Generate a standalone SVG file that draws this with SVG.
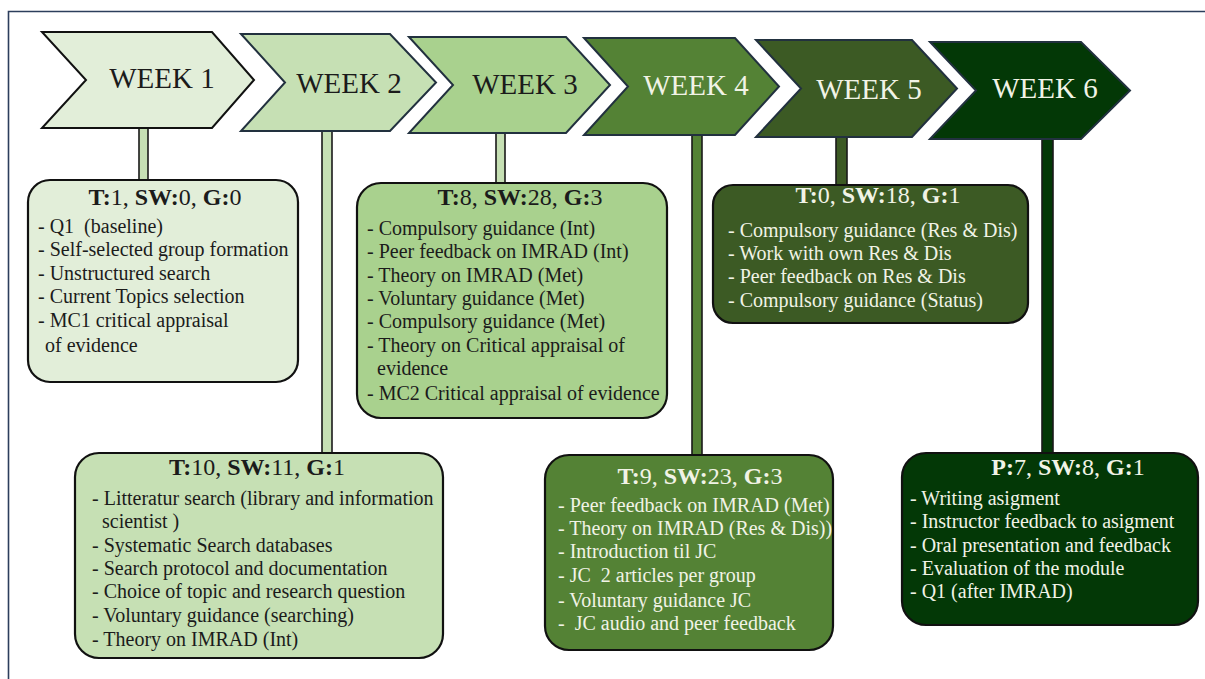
<svg xmlns="http://www.w3.org/2000/svg" width="1205" height="679" viewBox="0 0 1205 679">
<style>
.chev{stroke:#22313f;stroke-width:2;stroke-linejoin:miter}
.wk{font-family:"Liberation Serif","Times New Roman",serif;font-size:29px;text-anchor:middle}
.box{stroke:#111;stroke-width:2.2}
.hd{font-family:"Liberation Serif","Times New Roman",serif;font-size:24px;text-anchor:middle}
.hd tspan.b{font-weight:bold}
.ln{font-family:"Liberation Serif","Times New Roman",serif;font-size:20px;white-space:pre}
.dk{fill:#1b1b1b}
.lt{fill:#f1f3e6}
.stem{stroke:#1a1a1a;stroke-width:1.6}
.c1{fill:#e2eed9}.c2{fill:#c6e0b4}.c3{fill:#a9d18e}.c4{fill:#548235}.c5{fill:#3c5a24}.c6{fill:#033806}
</style>
<rect width="1205" height="679" fill="#ffffff"/>
<g id="frame" fill="none" stroke="#2c3e5c" stroke-width="1.6">
<path d="M8.5 679 V11.5 H1205"/>
</g>
<g id="connectors">
<rect class="stem c2" x="139" y="128" width="9" height="52"/>
<rect class="stem c2" x="322" y="131" width="10" height="322"/>
<rect class="stem c2" x="496" y="133" width="9" height="50"/>
<rect class="stem c4" x="692" y="135" width="10" height="320"/>
<rect class="stem c5" x="836" y="137" width="11" height="48"/>
<rect class="stem c6" x="1042" y="139" width="11" height="314"/>
</g>
<g id="week1">
<polygon class="chev c1" style="stroke:#111" points="42,32 212,32 254,80 212,128 42,128 86,80"/>
<text class="wk dk" x="162" y="88">WEEK 1</text>
</g>
<g id="week2">
<polygon class="chev c2" points="241,34 390,34 436,82.5 390,131 241,131 285,82.5"/>
<text class="wk dk" x="349" y="93">WEEK 2</text>
</g>
<g id="week3">
<polygon class="chev c3" points="409,37 566,37 610,85 566,133 409,133 453,85"/>
<text class="wk dk" x="525" y="94">WEEK 3</text>
</g>
<g id="week4">
<polygon class="chev c4" points="584,38 735,38 779,86.5 735,135 584,135 628,86.5"/>
<text class="wk lt" x="696" y="95">WEEK 4</text>
</g>
<g id="week5">
<polygon class="chev c5" points="756,40 912,40 957,88.5 912,137 756,137 801,88.5"/>
<text class="wk lt" x="869" y="99">WEEK 5</text>
</g>
<g id="week6">
<polygon class="chev c6" points="930,42 1081,42 1130,90.5 1081,139 930,139 976,90.5"/>
<text class="wk lt" x="1045" y="98">WEEK 6</text>
</g>
<g id="box1">
<rect class="box c1" x="28" y="180" width="270" height="202" rx="22"/>
<text class="hd dk" x="165" y="205"><tspan class="b">T:</tspan>1, <tspan class="b">SW:</tspan>0, <tspan class="b">G:</tspan>0</text>
<text class="ln dk" x="38" y="233">- Q1  (baseline)</text>
<text class="ln dk" x="38" y="256">- Self-selected group formation</text>
<text class="ln dk" x="38" y="280">- Unstructured search</text>
<text class="ln dk" x="38" y="303">- Current Topics selection</text>
<text class="ln dk" x="38" y="327">- MC1 critical appraisal</text>
<text class="ln dk" x="45" y="352">of evidence</text>
</g>
<g id="box2">
<rect class="box c2" x="75" y="453" width="368" height="205" rx="24"/>
<text class="hd dk" x="257" y="475"><tspan class="b">T:</tspan>10, <tspan class="b">SW:</tspan>11, <tspan class="b">G:</tspan>1</text>
<text class="ln dk" x="92" y="505">- Litteratur search (library and information</text>
<text class="ln dk" x="102" y="528">scientist )</text>
<text class="ln dk" x="92" y="552">- Systematic Search databases</text>
<text class="ln dk" x="92" y="575">- Search protocol and documentation</text>
<text class="ln dk" x="92" y="598">- Choice of topic and research question</text>
<text class="ln dk" x="92" y="622">- Voluntary guidance (searching)</text>
<text class="ln dk" x="92" y="646">- Theory on IMRAD (Int)</text>
</g>
<g id="box3">
<rect class="box c3" x="357" y="183" width="310" height="235" rx="24"/>
<text class="hd dk" x="520" y="205"><tspan class="b">T:</tspan>8, <tspan class="b">SW:</tspan>28, <tspan class="b">G:</tspan>3</text>
<text class="ln dk" x="367" y="235">- Compulsory guidance (Int)</text>
<text class="ln dk" x="367" y="258">- Peer feedback on IMRAD (Int)</text>
<text class="ln dk" x="367" y="282">- Theory on IMRAD (Met)</text>
<text class="ln dk" x="367" y="305">- Voluntary guidance (Met)</text>
<text class="ln dk" x="367" y="328">- Compulsory guidance (Met)</text>
<text class="ln dk" x="367" y="352">- Theory on Critical appraisal of</text>
<text class="ln dk" x="377" y="375">evidence</text>
<text class="ln dk" x="367" y="400">- MC2 Critical appraisal of evidence</text>
</g>
<g id="box4">
<rect class="box c4" x="545" y="455" width="288" height="195" rx="24"/>
<text class="hd lt" x="700" y="484"><tspan class="b">T:</tspan>9, <tspan class="b">SW:</tspan>23, <tspan class="b">G:</tspan>3</text>
<text class="ln lt" x="558" y="512">- Peer feedback on IMRAD (Met)</text>
<text class="ln lt" x="558" y="535">- Theory on IMRAD (Res &amp; Dis))</text>
<text class="ln lt" x="558" y="558">- Introduction til JC</text>
<text class="ln lt" x="558" y="582">- JC  2 articles per group</text>
<text class="ln lt" x="558" y="607">- Voluntary guidance JC</text>
<text class="ln lt" x="558" y="630">-  JC audio and peer feedback</text>
</g>
<g id="box5">
<rect class="box c5" x="713" y="185" width="315" height="138" rx="20"/>
<text class="hd lt" x="878" y="203"><tspan class="b">T:</tspan>0, <tspan class="b">SW:</tspan>18, <tspan class="b">G:</tspan>1</text>
<text class="ln lt" x="728" y="237">- Compulsory guidance (Res &amp; Dis)</text>
<text class="ln lt" x="728" y="260">- Work with own Res &amp; Dis</text>
<text class="ln lt" x="728" y="283">- Peer feedback on Res &amp; Dis</text>
<text class="ln lt" x="728" y="307">- Compulsory guidance (Status)</text>
</g>
<g id="box6">
<rect class="box c6" x="902" y="453" width="296" height="172" rx="24"/>
<text class="hd lt" x="1068" y="475"><tspan class="b">P:</tspan>7, <tspan class="b">SW:</tspan>8, <tspan class="b">G:</tspan>1</text>
<text class="ln lt" x="910" y="505">- Writing asigment</text>
<text class="ln lt" x="910" y="528">- Instructor feedback to asigment</text>
<text class="ln lt" x="910" y="552">- Oral presentation and feedback</text>
<text class="ln lt" x="910" y="575">- Evaluation of the module</text>
<text class="ln lt" x="910" y="598">- Q1 (after IMRAD)</text>
</g>
</svg>
